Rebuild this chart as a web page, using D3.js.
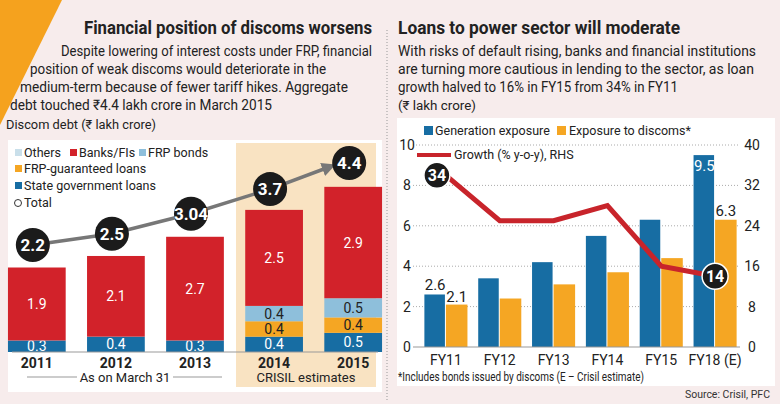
<!DOCTYPE html>
<html><head><meta charset="utf-8">
<script src="https://cdn.jsdelivr.net/npm/d3@7"></script>
<style>
body{margin:0;background:#f7ecec;}
svg{display:block;font-family:"Liberation Sans Narrow","Roboto",sans-serif;}
</style></head><body>
<svg id="c" width="780" height="404"></svg>
<script>
"use strict";

// left chart data
const years = ["2011", "2012", "2013", "2014", "2015"];
const stateLoans = [0.3, 0.4, 0.3, 0.4, 0.5];
const frpGuaranteed = [0, 0, 0, 0.4, 0.4];
const frpBonds = [0, 0, 0, 0.4, 0.5];
const banks = [1.9, 2.1, 2.7, 2.5, 2.9];
const totals = [2.2, 2.5, 3.04, 3.7, 4.4];
const totalLabels = ["2.2", "2.5", "3.04", "3.7", "4.4"];

// right chart data
const fyears = ["FY11", "FY12", "FY13", "FY14", "FY15", "FY18 (E)"];
const generation = [2.6, 3.4, 4.2, 5.5, 6.3, 9.5];
const discoms = [2.1, 2.4, 3.1, 3.7, 4.4, 6.3];
const growth = [34, 25, 25, 28, 16, 14];
const leftTicks = [0, 2, 4, 6, 8, 10];
const rightTicks = [0, 8, 16, 24, 32, 40];

const svg = d3.select("#c");
const C = {red: "#d2222a", blue: "#176da3", orange: "#f5a623", frp: "#8ebfdb", others: "#c9dfea", dark: "#1b1b1b"};

svg.append("polygon").attr("points", "0,0 62,0 0,125").attr("fill", "#f5a21e");
svg.append("line").attr("x1", 387).attr("x2", 387).attr("y1", 30).attr("y2", 400)
    .attr("stroke", "#999").attr("stroke-dasharray", "1,2");

function txt(x, y, s, size, opts) {
    opts = opts || {};
    const t = svg.append("text").attr("x", x).attr("y", y).text(s)
        .attr("font-size", size).attr("fill", opts.fill || "#222")
        .attr("font-weight", opts.bold ? "bold" : null)
        .attr("text-anchor", opts.anchor || "start");
    if (opts.len) t.attr("textLength", opts.len).attr("lengthAdjust", "spacingAndGlyphs");
    return t;
}

// headers
txt(372, 34, "Financial position of discoms worsens", 19, {bold: true, anchor: "end", len: 288});
txt(61, 56, "Despite lowering of interest costs under FRP, financial", 14.5, {len: 311});
txt(30, 74, "position of weak discoms would deteriorate in the", 14.5, {len: 296});
txt(20, 92, "medium-term because of fewer tariff hikes. Aggregate", 14.5, {len: 328});
txt(10, 110, "debt touched ₹4.4 lakh crore in March 2015", 14.5, {len: 262});
txt(6, 129, "Discom debt (₹ lakh crore)", 12.5, {len: 150});

txt(398, 34, "Loans to power sector will moderate", 19, {bold: true, len: 282});
txt(398, 56, "With risks of default rising, banks and financial institutions", 14.5, {len: 358});
txt(398, 74, "are turning more cautious in lending to the sector, as loan", 14.5, {len: 356});
txt(398, 92, "growth halved to 16% in FY15 from 34% in FY11", 14.5, {len: 280});
txt(398, 110, "(₹ lakh crore)", 12.5, {len: 78});

// ---------- left chart ----------
svg.append("rect").attr("x", 8).attr("y", 140).attr("width", 374).attr("height", 252).attr("fill", "#fff");
svg.append("rect").attr("x", 236).attr("y", 143).attr("width", 140).attr("height", 244).attr("fill", "#f9e3c2");

const xL = d3.scaleBand().domain(years).range([4, 386]).paddingInner(0.27).paddingOuter(0.05);
const yL = d3.scaleLinear().domain([0, 4.4]).range([352, 183]);
const yT = d3.scaleLinear().domain([2.2, 4.4]).range([245, 163]);

const layers = [
    {vals: stateLoans, color: C.blue, tc: "#fff"},
    {vals: frpGuaranteed, color: C.orange, tc: "#222"},
    {vals: frpBonds, color: C.frp, tc: "#222"},
    {vals: banks, color: C.red, tc: "#fff"}
];
years.forEach((yr, i) => {
    let base = 0;
    layers.forEach(l => {
        const v = l.vals[i];
        if (!v) return;
        const y0 = yL(base), y1 = yL(base + v);
        svg.append("rect").attr("x", xL(yr)).attr("width", xL.bandwidth())
            .attr("y", y1).attr("height", y0 - y1).attr("fill", l.color);
        txt(xL(yr) + xL.bandwidth() / 2, (y0 + y1) / 2 + 5, v.toFixed(1), 14, {anchor: "middle", fill: l.tc});
        base += v;
    });
});
svg.append("line").attr("x1", 12).attr("x2", 378).attr("y1", 352).attr("y2", 352).attr("stroke", "#999");
years.forEach(yr => txt(xL(yr) + xL.bandwidth() / 2, 368, yr, 14, {anchor: "middle", bold: true}));
svg.append("line").attr("x1", 27).attr("x2", 77).attr("y1", 377).attr("y2", 377).attr("stroke", "#999");
svg.append("line").attr("x1", 173).attr("x2", 222).attr("y1", 377).attr("y2", 377).attr("stroke", "#999");
txt(125, 382, "As on March 31", 13, {anchor: "middle"});
txt(306, 382, "CRISIL estimates", 13, {anchor: "middle"});

// total line with arrow
const tx = (i) => xL(years[i]) + xL.bandwidth() / 2 - 4;
svg.append("defs").append("marker").attr("id", "arr").attr("viewBox", "0 0 10 10")
    .attr("refX", 5).attr("refY", 5).attr("markerWidth", 4).attr("markerHeight", 4).attr("orient", "auto")
    .append("path").attr("d", "M0,0L10,5L0,10z").attr("fill", "#777");
svg.append("path").datum(totals.slice(0, 4))
    .attr("d", d3.line().x((d, i) => tx(i)).y(d => yT(d)))
    .attr("stroke", "#777").attr("stroke-width", 3.5).attr("fill", "none");
svg.append("line").attr("x1", tx(3)).attr("y1", yT(totals[3])).attr("x2", tx(4) - 20).attr("y2", yT(totals[4]) + 4)
    .attr("stroke", "#777").attr("stroke-width", 3.5).attr("marker-end", "url(#arr)");
totals.forEach((v, i) => {
    svg.append("circle").attr("cx", tx(i)).attr("cy", yT(v)).attr("r", 17).attr("fill", C.dark);
    txt(tx(i), yT(v) + 6, totalLabels[i], 17, {anchor: "middle", fill: "#fff", bold: true});
});

// left legend
function sq(x, y, c) { svg.append("rect").attr("x", x).attr("y", y - 8).attr("width", 7).attr("height", 7).attr("fill", c); }
sq(15, 157, C.others); txt(24, 157, "Others", 12.5);
sq(70, 157, C.red); txt(79, 157, "Banks/FIs", 12.5);
sq(139, 157, C.frp); txt(148, 157, "FRP bonds", 12.5);
sq(15, 173, C.orange); txt(24, 173, "FRP-guaranteed loans", 12.5);
sq(15, 190, C.blue); txt(24, 190, "State government loans", 12.5);
svg.append("circle").attr("cx", 18).attr("cy", 203).attr("r", 3.5).attr("fill", "#fff").attr("stroke", "#333");
txt(24, 207, "Total", 12.5);

// ---------- right chart ----------
svg.append("rect").attr("x", 397).attr("y", 118).attr("width", 378).attr("height", 268).attr("fill", "#fff");
const x0 = d3.scaleBand().domain(fyears).range([419, 742]).paddingInner(0.2).paddingOuter(0.1);
const x1 = d3.scaleBand().domain(["g", "d"]).range([0, x0.bandwidth()]);
const yR = d3.scaleLinear().domain([0, 10]).range([347, 145]);
const yG = d3.scaleLinear().domain([0, 40]).range([347, 145]);

leftTicks.slice(1).forEach(t => {
    svg.append("line").attr("x1", 413).attr("x2", 740).attr("y1", yR(t)).attr("y2", yR(t))
        .attr("stroke", "#aaa").attr("stroke-dasharray", "1,2");
});
leftTicks.forEach(t => txt(407, yR(t) + 5, t, 14, {anchor: "middle"}));
rightTicks.forEach(t => txt(752, yG(t) + 5, t, 14, {anchor: "middle"}));

fyears.forEach((f, i) => {
    svg.append("rect").attr("x", x0(f) + x1("g")).attr("width", x1.bandwidth() - 1)
        .attr("y", yR(generation[i])).attr("height", yR(0) - yR(generation[i])).attr("fill", C.blue);
    svg.append("rect").attr("x", x0(f) + x1("d")).attr("width", x1.bandwidth())
        .attr("y", yR(discoms[i])).attr("height", yR(0) - yR(discoms[i])).attr("fill", C.orange);
    txt(x0(f) + x0.bandwidth() / 2, 365, f, 14, {anchor: "middle"});
});
svg.append("line").attr("x1", 413).attr("x2", 740).attr("y1", 347).attr("y2", 347).attr("stroke", "#999");

// value labels
const gi = fyears.length - 1;
txt(x0(fyears[0]) + x1("g") + x1.bandwidth() / 2, yR(generation[0]) - 4, "2.6", 15, {anchor: "middle"});
txt(x0(fyears[0]) + x1("d") + x1.bandwidth() / 2, yR(discoms[0]) - 3, "2.1", 15, {anchor: "middle"});
txt(x0(fyears[gi]) + x1("g") + x1.bandwidth() / 2, yR(generation[gi]) + 16, "9.5", 15, {anchor: "middle", fill: "#fff"});
txt(x0(fyears[gi]) + x1("d") + x1.bandwidth() / 2, yR(discoms[gi]) - 4, "6.3", 15, {anchor: "middle"});

const gx = (i) => x0(fyears[i]) + x0.bandwidth() / 2;
svg.append("path").datum(growth)
    .attr("d", d3.line().x((d, i) => gx(i)).y(d => yG(d)))
    .attr("stroke", "#c8242b").attr("stroke-width", 5).attr("fill", "none");
[0, gi].forEach(i => {
    const cx = i === 0 ? gx(i) - 9 : gx(i);
    svg.append("circle").attr("cx", cx).attr("cy", yG(growth[i])).attr("r", 13)
        .attr("fill", C.dark).attr("stroke", "#fff").attr("stroke-width", 1.5);
    txt(cx, yG(growth[i]) + 6, growth[i], 16, {anchor: "middle", fill: "#fff", bold: true});
});

// right legend
svg.append("rect").attr("x", 424).attr("y", 126).attr("width", 9).attr("height", 9).attr("fill", C.blue);
txt(435, 135, "Generation exposure", 12.5);
svg.append("rect").attr("x", 557).attr("y", 126).attr("width", 9).attr("height", 9).attr("fill", C.orange);
txt(569, 135, "Exposure to discoms*", 12.5);
svg.append("line").attr("x1", 417).attr("x2", 451).attr("y1", 155).attr("y2", 155).attr("stroke", "#c8242b").attr("stroke-width", 4);
txt(454, 159, "Growth (% y-o-y), RHS", 12.5);

txt(398, 381, "*Includes bonds issued by discoms (E – Crisil estimate)", 12, {len: 246});
txt(770, 398, "Source: Crisil, PFC", 10.5, {anchor: "end", fill: "#333"});
</script>
</body></html>
